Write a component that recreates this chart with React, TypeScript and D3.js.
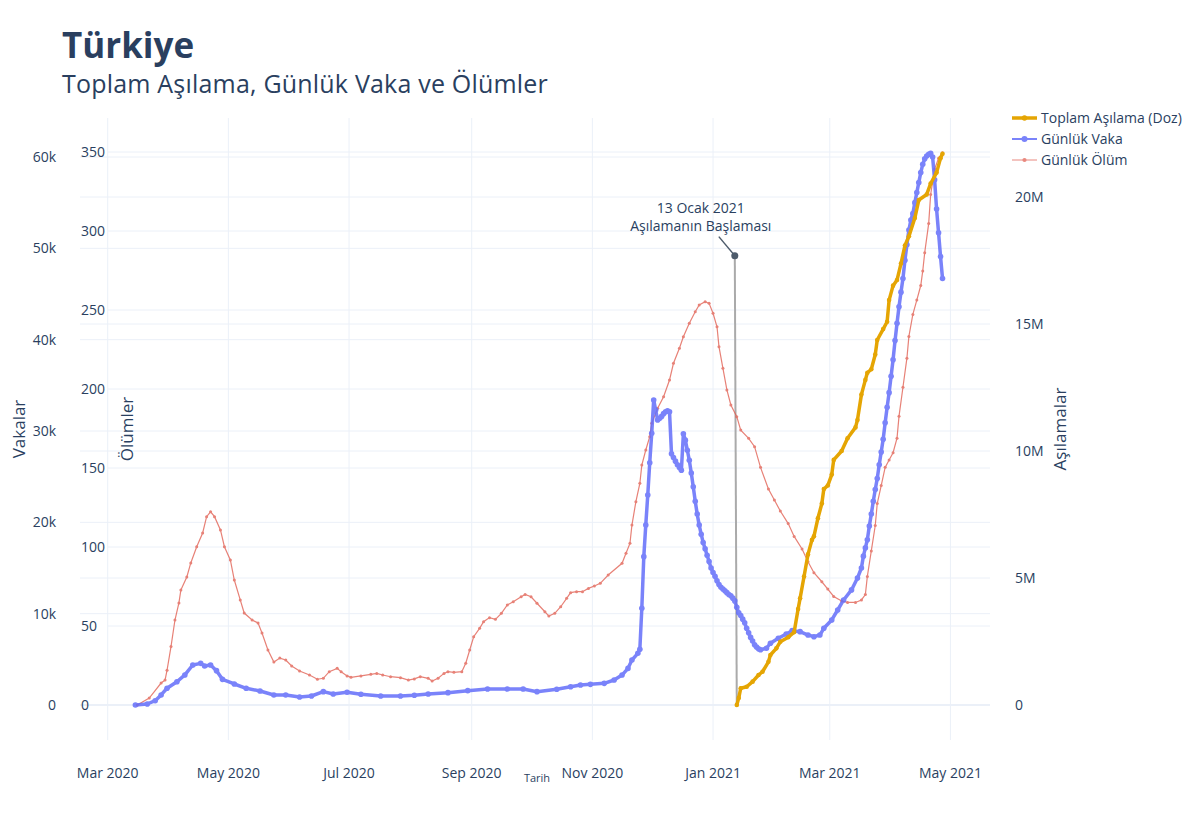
import React from "react";
import * as d3 from "d3";

// ---------- data ----------
const X_TICKS = ["2020-03-01", "2020-05-01", "2020-07-01", "2020-09-01", "2020-11-01", "2021-01-01", "2021-03-01", "2021-05-01"];
const CASE_TICKS = [0, 10000, 20000, 30000, 40000, 50000, 60000];
const DEATH_TICKS = [0, 50, 100, 150, 200, 250, 300, 350];
const VACC_TICKS = [0, 5e6, 10e6, 15e6, 20e6];

const vaccinations: [string, number][] = [
  ["2021-01-13", 0], ["2021-01-14", 0.28e6], ["2021-01-15", 0.66e6], ["2021-01-18", 0.72e6], ["2021-01-21", 0.92e6],
  ["2021-01-24", 1.18e6], ["2021-01-26", 1.31e6], ["2021-01-29", 1.7e6], ["2021-01-30", 1.97e6], ["2021-02-02", 2.23e6],
  ["2021-02-04", 2.49e6], ["2021-02-08", 2.67e6], ["2021-02-11", 2.87e6], ["2021-02-13", 3.78e6], ["2021-02-14", 4.2e6],
  ["2021-02-16", 5.06e6], ["2021-02-18", 5.93e6], ["2021-02-20", 6.5e6], ["2021-02-21", 6.64e6], ["2021-02-23", 7.35e6],
  ["2021-02-25", 7.93e6], ["2021-02-26", 8.5e6], ["2021-02-28", 8.64e6], ["2021-03-02", 9.07e6], ["2021-03-03", 9.65e6],
  ["2021-03-07", 10.0e6], ["2021-03-10", 10.5e6], ["2021-03-14", 10.93e6], ["2021-03-15", 11.22e6], ["2021-03-17", 12.22e6],
  ["2021-03-19", 12.8e6], ["2021-03-20", 13.08e6], ["2021-03-22", 13.22e6], ["2021-03-24", 13.8e6], ["2021-03-25", 14.37e6],
  ["2021-03-28", 14.8e6], ["2021-03-30", 15.09e6], ["2021-03-31", 15.94e6], ["2021-04-02", 16.51e6], ["2021-04-04", 16.73e6],
  ["2021-04-06", 17.38e6], ["2021-04-08", 18.09e6], ["2021-04-10", 18.45e6], ["2021-04-13", 19.17e6], ["2021-04-15", 19.88e6],
  ["2021-04-19", 20.1e6], ["2021-04-21", 20.53e6], ["2021-04-24", 20.96e6], ["2021-04-26", 21.53e6], ["2021-04-27", 21.7e6],
];

const dailyCases: [string, number][] = [
  ["2020-03-15", 0], ["2020-03-21", 110], ["2020-03-25", 470], ["2020-03-28", 1100], ["2020-03-31", 1830],
  ["2020-04-05", 2550], ["2020-04-09", 3290], ["2020-04-13", 4380], ["2020-04-17", 4560], ["2020-04-19", 4270],
  ["2020-04-22", 4380], ["2020-04-25", 3760], ["2020-04-28", 2810], ["2020-05-04", 2300], ["2020-05-10", 1830],
  ["2020-05-17", 1530], ["2020-05-24", 1100], ["2020-05-30", 1100], ["2020-06-06", 880], ["2020-06-12", 985],
  ["2020-06-18", 1460], ["2020-06-23", 1200], ["2020-06-30", 1390], ["2020-07-07", 1170], ["2020-07-17", 985],
  ["2020-07-27", 985], ["2020-08-03", 1060], ["2020-08-10", 1200], ["2020-08-20", 1350], ["2020-08-30", 1570],
  ["2020-09-09", 1750], ["2020-09-19", 1750], ["2020-09-27", 1750], ["2020-10-04", 1460], ["2020-10-14", 1720],
  ["2020-10-21", 2000], ["2020-10-26", 2190], ["2020-10-31", 2260], ["2020-11-07", 2370], ["2020-11-12", 2740],
  ["2020-11-16", 3280], ["2020-11-19", 4010], ["2020-11-21", 4930], ["2020-11-24", 5660], ["2020-11-25", 6100],
  ["2020-11-26", 10590], ["2020-11-27", 16240], ["2020-11-28", 19710], ["2020-11-29", 22990], ["2020-11-30", 26530],
  ["2020-12-01", 29750], ["2020-12-02", 33400], ["2020-12-03", 32300], ["2020-12-04", 31200], ["2020-12-05", 31400],
  ["2020-12-06", 31600], ["2020-12-07", 31900], ["2020-12-08", 32100], ["2020-12-09", 32200], ["2020-12-10", 32100],
  ["2020-12-11", 27500], ["2020-12-12", 27100], ["2020-12-13", 26700], ["2020-12-14", 26300], ["2020-12-15", 26000],
  ["2020-12-16", 25700], ["2020-12-17", 29700], ["2020-12-18", 29000], ["2020-12-19", 27900], ["2020-12-20", 26800],
  ["2020-12-21", 25400], ["2020-12-22", 23900], ["2020-12-23", 22300], ["2020-12-24", 20900], ["2020-12-25", 19700],
  ["2020-12-26", 18700], ["2020-12-27", 17800], ["2020-12-28", 17100], ["2020-12-29", 16400], ["2020-12-30", 15700],
  ["2020-12-31", 15000], ["2021-01-01", 14500], ["2021-01-02", 14100], ["2021-01-03", 13600], ["2021-01-04", 13200],
  ["2021-01-05", 12900], ["2021-01-06", 12700], ["2021-01-07", 12500], ["2021-01-08", 12300], ["2021-01-09", 12100],
  ["2021-01-10", 11950], ["2021-01-11", 11700], ["2021-01-12", 11400], ["2021-01-13", 10700], ["2021-01-14", 10100],
  ["2021-01-15", 9800], ["2021-01-16", 9400], ["2021-01-17", 9000], ["2021-01-18", 8400], ["2021-01-19", 7900],
  ["2021-01-20", 7400], ["2021-01-21", 7000], ["2021-01-22", 6600], ["2021-01-23", 6350], ["2021-01-24", 6150],
  ["2021-01-25", 6050], ["2021-01-28", 6210], ["2021-01-30", 6760], ["2021-02-03", 7300], ["2021-02-07", 7770],
  ["2021-02-10", 8140], ["2021-02-14", 8030], ["2021-02-18", 7660], ["2021-02-21", 7480], ["2021-02-24", 7660],
  ["2021-02-26", 8400], ["2021-03-02", 9310], ["2021-03-05", 10400], ["2021-03-08", 11500], ["2021-03-12", 12600],
  ["2021-03-15", 13900], ["2021-03-17", 15000], ["2021-03-18", 16300], ["2021-03-19", 17200], ["2021-03-20", 18100],
  ["2021-03-21", 19600], ["2021-03-22", 20900], ["2021-03-23", 22300], ["2021-03-24", 23600], ["2021-03-25", 24800],
  ["2021-03-26", 26300], ["2021-03-27", 27700], ["2021-03-28", 29100], ["2021-03-29", 30900], ["2021-03-30", 32600],
  ["2021-03-31", 34200], ["2021-04-01", 36000], ["2021-04-02", 37800], ["2021-04-03", 39900], ["2021-04-04", 41800],
  ["2021-04-05", 43600], ["2021-04-06", 45200], ["2021-04-07", 46700], ["2021-04-08", 48700], ["2021-04-09", 50400],
  ["2021-04-10", 52000], ["2021-04-11", 53100], ["2021-04-12", 53800], ["2021-04-13", 55000], ["2021-04-14", 56100],
  ["2021-04-15", 57200], ["2021-04-16", 58300], ["2021-04-17", 59200], ["2021-04-18", 59800], ["2021-04-19", 60100],
  ["2021-04-20", 60300], ["2021-04-21", 60400], ["2021-04-22", 60000], ["2021-04-23", 57500], ["2021-04-24", 54300],
  ["2021-04-25", 51700], ["2021-04-26", 49100], ["2021-04-27", 46700],
];

const dailyDeaths: [string, number][] = [
  ["2020-03-16", 0], ["2020-03-22", 4.4], ["2020-03-28", 13.9], ["2020-03-30", 15.8], ["2020-03-31", 22],
  ["2020-04-02", 37], ["2020-04-04", 53.8], ["2020-04-06", 64.6], ["2020-04-07", 72.8], ["2020-04-10", 81],
  ["2020-04-12", 89.9], ["2020-04-15", 100.2], ["2020-04-18", 108.9], ["2020-04-20", 119.2], ["2020-04-22", 122.3],
  ["2020-04-24", 119.2], ["2020-04-27", 110.8], ["2020-04-29", 100.2], ["2020-05-02", 91.8], ["2020-05-04", 79.1],
  ["2020-05-07", 66.5], ["2020-05-09", 58.2], ["2020-05-13", 53.8], ["2020-05-16", 51.9], ["2020-05-18", 45.6],
  ["2020-05-21", 34.8], ["2020-05-24", 27.2], ["2020-05-27", 29.7], ["2020-05-30", 28.5], ["2020-06-02", 24.7],
  ["2020-06-06", 21.5], ["2020-06-11", 19], ["2020-06-15", 16.3], ["2020-06-18", 16.9], ["2020-06-21", 21.1],
  ["2020-06-25", 23.2], ["2020-06-27", 21.1], ["2020-06-30", 18.4], ["2020-07-02", 17.5], ["2020-07-07", 18.4],
  ["2020-07-12", 19.4], ["2020-07-15", 20], ["2020-07-18", 19], ["2020-07-22", 17.9], ["2020-07-27", 17.3],
  ["2020-07-31", 15.8], ["2020-08-03", 16.5], ["2020-08-06", 17.9], ["2020-08-10", 16.9], ["2020-08-12", 15.2],
  ["2020-08-15", 16.9], ["2020-08-18", 20], ["2020-08-20", 21.1], ["2020-08-23", 20.7], ["2020-08-27", 21.1],
  ["2020-08-29", 26.4], ["2020-08-31", 34.8], ["2020-09-02", 43.2], ["2020-09-05", 48.5], ["2020-09-07", 52.7],
  ["2020-09-10", 55.3], ["2020-09-13", 54.2], ["2020-09-16", 58], ["2020-09-19", 63.3], ["2020-09-22", 65.4],
  ["2020-09-26", 68.5], ["2020-09-28", 70], ["2020-10-01", 68.5], ["2020-10-04", 64.4], ["2020-10-08", 59],
  ["2020-10-10", 56.3], ["2020-10-13", 58], ["2020-10-16", 62.2], ["2020-10-19", 67.5], ["2020-10-21", 71.1],
  ["2020-10-24", 71.7], ["2020-10-27", 71.7], ["2020-10-30", 73.8], ["2020-11-02", 75.3], ["2020-11-05", 77],
  ["2020-11-09", 82.3], ["2020-11-16", 89.7], ["2020-11-18", 96], ["2020-11-20", 102.3], ["2020-11-21", 113.9],
  ["2020-11-23", 128.7], ["2020-11-25", 140.3], ["2020-11-26", 151.9], ["2020-11-28", 161.4], ["2020-11-30", 169.8],
  ["2020-12-01", 178.3], ["2020-12-04", 187.8], ["2020-12-07", 195.1], ["2020-12-10", 205.7], ["2020-12-12", 216.3],
  ["2020-12-15", 225.8], ["2020-12-17", 233.1], ["2020-12-20", 241.6], ["2020-12-23", 248.9], ["2020-12-25", 253.2],
  ["2020-12-28", 255.3], ["2020-12-30", 254.2], ["2021-01-01", 247.9], ["2021-01-03", 239.4], ["2021-01-04", 226.8],
  ["2021-01-06", 213.1], ["2021-01-08", 199.4], ["2021-01-10", 189.9], ["2021-01-13", 182.5], ["2021-01-15", 174],
  ["2021-01-19", 168.8], ["2021-01-22", 163.5], ["2021-01-25", 150.4], ["2021-01-29", 136.7], ["2021-02-01", 129.7],
  ["2021-02-04", 122.8], ["2021-02-08", 114.8], ["2021-02-11", 106.7], ["2021-02-15", 98.7], ["2021-02-18", 90.6],
  ["2021-02-21", 83.7], ["2021-02-25", 78], ["2021-02-28", 73.4], ["2021-03-03", 68.7], ["2021-03-07", 65.8],
  ["2021-03-10", 64.9], ["2021-03-14", 64.9], ["2021-03-17", 66.5], ["2021-03-19", 69.9], ["2021-03-20", 81.4],
  ["2021-03-22", 97.5], ["2021-03-24", 113.6], ["2021-03-25", 127.5], ["2021-03-27", 138.9], ["2021-03-29", 150.4],
  ["2021-03-31", 155.1], ["2021-04-02", 159.7], ["2021-04-04", 168.9], ["2021-04-05", 182.7], ["2021-04-07", 201.1],
  ["2021-04-09", 219.5], ["2021-04-10", 233.3], ["2021-04-12", 247.2], ["2021-04-14", 256.3], ["2021-04-16", 265.5],
  ["2021-04-17", 274.7], ["2021-04-18", 286.3], ["2021-04-20", 304.7], ["2021-04-21", 323.1], ["2021-04-23", 339.2],
  ["2021-04-25", 346.1], ["2021-04-27", 349.6],
];

const LEGEND_LABELS = ["Toplam Aşılama (Doz)", "Günlük Vaka", "Günlük Ölüm"];
const ANNOTATION_LINES = ["13 Ocak 2021", "Aşılamanın Başlaması"];
const ANNOTATION_DATE = "2021-01-13";
const ANNOTATION_LINE_TOP_DATE = "2021-01-12";
const ANNOTATION_CASES = 49200;

// ---------- style ----------
const FONT = "'Open Sans', 'Noto Sans', sans-serif";
const TEXT = "#2a3f5f";
const GRID = "#EBF0F8";
const C_VACC = "#E5A503";
const C_CASE = "#636efa";
const C_DEATH = "#E0584A";

const parse = d3.timeParse("%Y-%m-%d");
type Pt = [Date, number];
const toPts = (a: [string, number][]): Pt[] => a.map(([d, v]) => [parse(d) as Date, v]);

export default function App() {
  const W = 1200, H = 819;
  const PL = 80, PR = 990, PT = 118, PB = 740;

  const x = d3.scaleTime().domain([parse("2020-02-16") as Date, parse("2021-05-21") as Date]).range([PL, PR]);
  const yC = d3.scaleLinear().domain([0, 60000]).range([705, 157]);
  const yD = d3.scaleLinear().domain([0, 350]).range([705, 152]);
  const yV = d3.scaleLinear().domain([0, 20e6]).range([705, 197]);

  const vacc = toPts(vaccinations);
  const cases = toPts(dailyCases);
  const deaths = toPts(dailyDeaths);

  const mk = (ys: d3.ScaleLinear<number, number>) => d3.line<Pt>().x((d) => x(d[0])).y((d) => ys(d[1]));
  const fmtS = d3.format("~s");
  const fmtX = d3.timeFormat("%b %Y");

  const annX = x(parse(ANNOTATION_DATE) as Date);
  const annTopX = x(parse(ANNOTATION_LINE_TOP_DATE) as Date);
  const annY = yC(ANNOTATION_CASES);

  const legendRows = [
    { label: LEGEND_LABELS[0], color: C_VACC, w: 3.5, r: 2.2, op: 1 },
    { label: LEGEND_LABELS[1], color: C_CASE, w: 2, r: 2.5, op: 0.85 },
    { label: LEGEND_LABELS[2], color: C_DEATH, w: 1, r: 1.6, op: 0.7 },
  ];

  return (
    <div style={{ position: "absolute", left: 0, top: 0 }}>
      <svg width={W} height={H} style={{ display: "block", background: "#fff", fontFamily: FONT }}>
        {/* grid */}
        {X_TICKS.map((t) => {
          const xx = x(parse(t) as Date);
          return <line key={"gx" + t} x1={xx} x2={xx} y1={PT} y2={PB} stroke={GRID} strokeWidth={1} />;
        })}
        {CASE_TICKS.filter((t) => t !== 0).map((t) => (
          <line key={"gc" + t} x1={PL} x2={PR} y1={yC(t)} y2={yC(t)} stroke={GRID} strokeWidth={1} />
        ))}
        {VACC_TICKS.filter((t) => t !== 0).map((t) => (
          <line key={"gv" + t} x1={PL} x2={PR} y1={yV(t)} y2={yV(t)} stroke={GRID} strokeWidth={1} />
        ))}
        {DEATH_TICKS.filter((t) => t !== 0).map((t) => (
          <line key={"gd" + t} x1={108} x2={PR} y1={yD(t)} y2={yD(t)} stroke={GRID} strokeWidth={1} />
        ))}
        <line x1={PL} x2={PR} y1={yC(0)} y2={yC(0)} stroke={GRID} strokeWidth={2} />

        {/* tick labels */}
        {CASE_TICKS.map((t) => (
          <text key={"tc" + t} x={56} y={yC(t)} dy="0.35em" textAnchor="end" fontSize={14} fill={TEXT}>{fmtS(t)}</text>
        ))}
        {DEATH_TICKS.map((t) => (
          <text key={"td" + t} x={81} y={yD(t)} dy="0.35em" textAnchor="start" fontSize={14} fill={TEXT}>{t}</text>
        ))}
        {VACC_TICKS.map((t) => (
          <text key={"tv" + t} x={1015} y={yV(t)} dy="0.35em" textAnchor="start" fontSize={14} fill={TEXT}>{fmtS(t)}</text>
        ))}
        {X_TICKS.map((t) => (
          <text key={"tx" + t} x={x(parse(t) as Date)} y={778} textAnchor="middle" fontSize={14} fill={TEXT}>{fmtX(parse(t) as Date)}</text>
        ))}

        {/* axis titles */}
        <text transform="translate(25,429) rotate(-90)" textAnchor="middle" fontSize={17} fill={TEXT}>Vakalar</text>
        <text transform="translate(133,429) rotate(-90)" textAnchor="middle" fontSize={17} fill={TEXT}>Ölümler</text>
        <text transform="translate(1066,429) rotate(-90)" textAnchor="middle" fontSize={17} fill={TEXT}>Aşılamalar</text>
        <text x={537} y={782} textAnchor="middle" fontSize={11} fill={TEXT}>Tarih</text>

        {/* vaccination start line */}
        <line x1={annTopX} y1={annY} x2={annX} y2={yC(0)} stroke="#aaaaaa" strokeWidth={2} />

        {/* deaths */}
        <g opacity={0.75}>
          <path d={mk(yD)(deaths) || ""} fill="none" stroke={C_DEATH} strokeWidth={1.2} />
          {deaths.map((d, i) => (
            <circle key={"d" + i} cx={x(d[0])} cy={yD(d[1])} r={1.5} fill={C_DEATH} />
          ))}
        </g>
        {/* cases */}
        <g opacity={0.85}>
          <path d={mk(yC)(cases) || ""} fill="none" stroke={C_CASE} strokeWidth={3.5} strokeLinejoin="round" />
          {cases.map((d, i) => (
            <circle key={"c" + i} cx={x(d[0])} cy={yC(d[1])} r={2.8} fill={C_CASE} />
          ))}
        </g>
        {/* vaccinations */}
        <g>
          <path d={mk(yV)(vacc) || ""} fill="none" stroke={C_VACC} strokeWidth={3.5} strokeLinejoin="round" />
          {vacc.map((d, i) => (
            <circle key={"v" + i} cx={x(d[0])} cy={yV(d[1])} r={2.3} fill={C_VACC} />
          ))}
        </g>

        {/* annotation */}
        <line x1={annTopX - 16} y1={annY - 19} x2={annTopX} y2={annY} stroke="#4d5b6b" strokeWidth={1.5} />
        <circle cx={annTopX} cy={annY} r={3.5} fill="#4d5b6b" />
        <text x={annTopX - 34} y={213} textAnchor="middle" fontSize={14} fill={TEXT}>{ANNOTATION_LINES[0]}</text>
        <text x={annTopX - 34} y={231} textAnchor="middle" fontSize={14} fill={TEXT}>{ANNOTATION_LINES[1]}</text>

        {/* legend */}
        {legendRows.map((r, i) => (
          <g key={"l" + i} transform={`translate(1012,${118 + i * 21})`}>
            <g opacity={r.op}>
              <line x1={0} x2={25} y1={0} y2={0} stroke={r.color} strokeWidth={r.w} />
              <circle cx={12.5} cy={0} r={r.r + 0.5} fill={r.color} />
            </g>
            <text x={29} y={0} dy="0.35em" fontSize={14} fill={TEXT}>{r.label}</text>
          </g>
        ))}

        {/* title */}
        <text x={62} y={58} fontSize={35} fontWeight={700} fill={TEXT}>Türkiye</text>
        <text x={62} y={93} fontSize={25} letterSpacing={0.2} fill={TEXT}>Toplam Aşılama, Günlük Vaka ve Ölümler</text>
      </svg>
    </div>
  );
}
